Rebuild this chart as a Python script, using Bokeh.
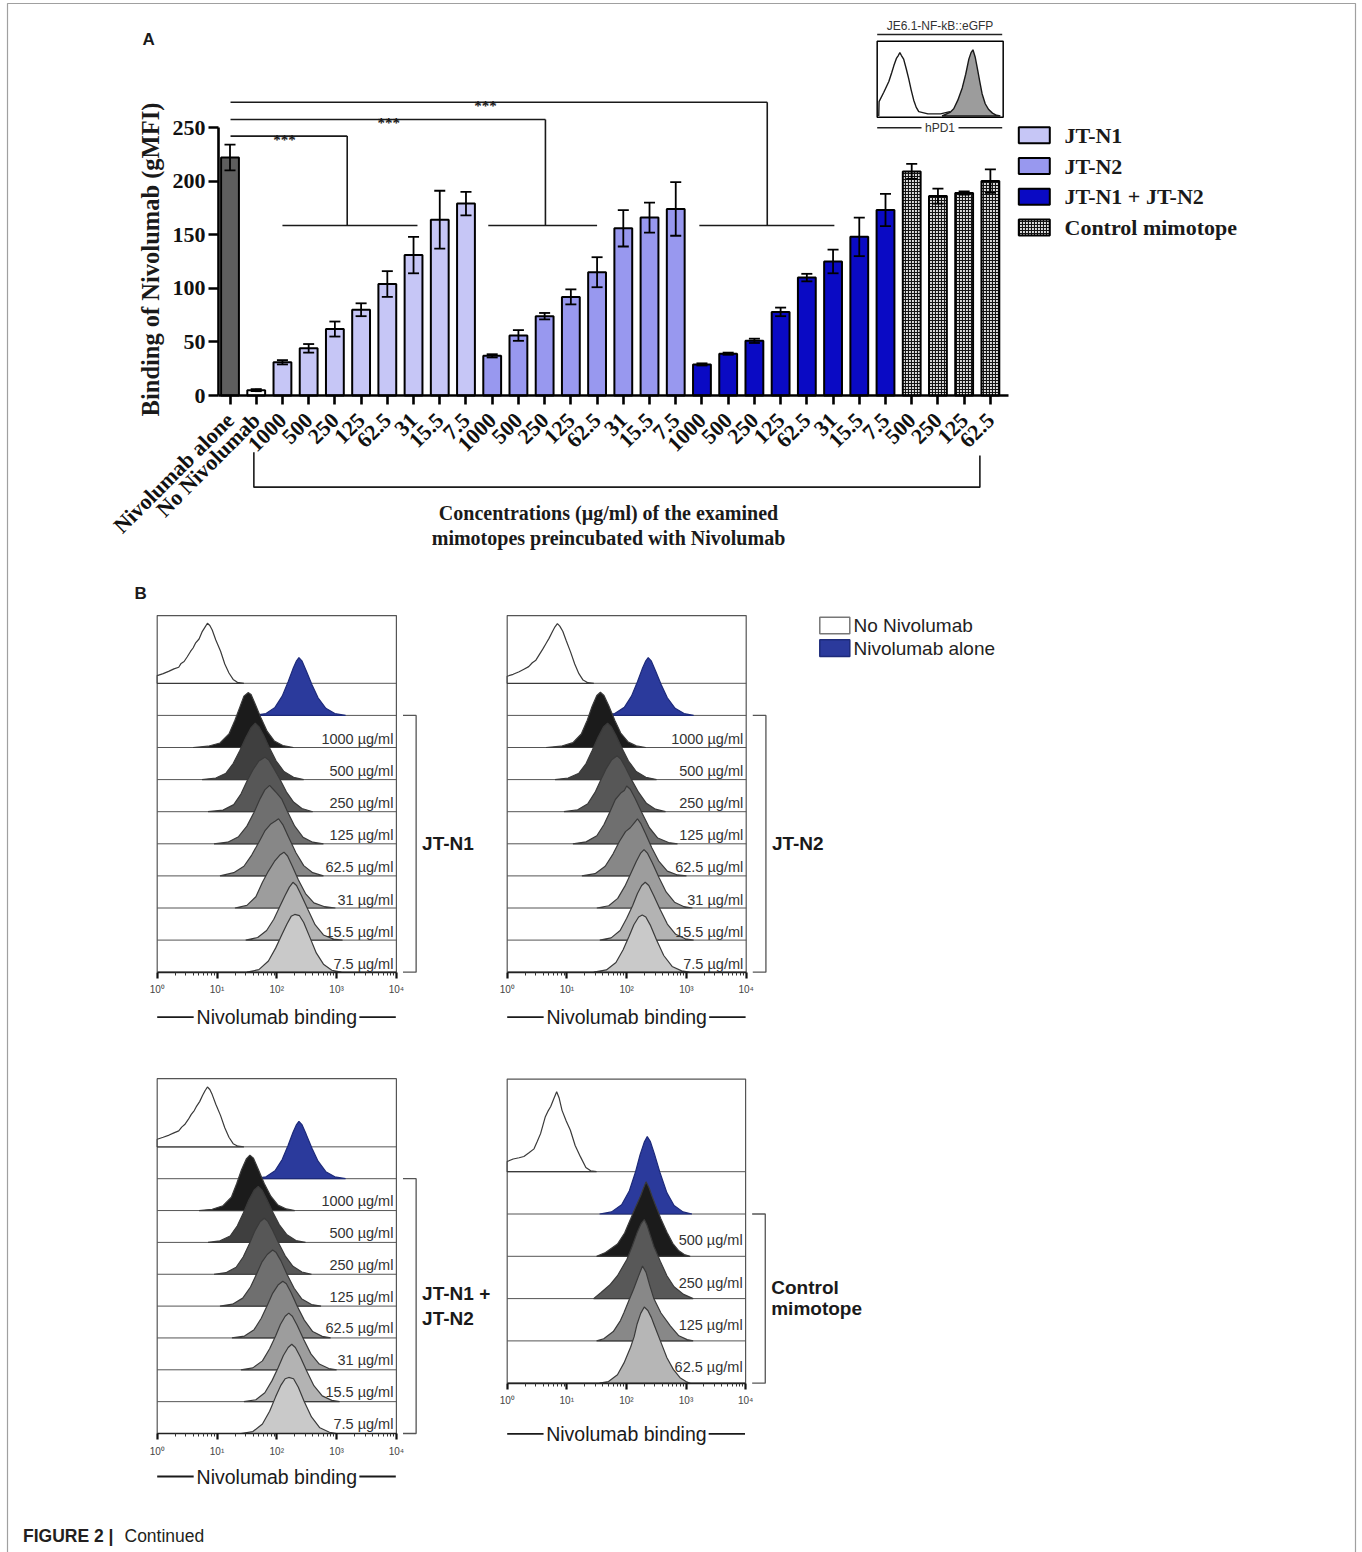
import math
from bokeh.plotting import figure
from bokeh.models import Range1d, LinearAxis, FixedTicker, ColumnDataSource
from bokeh.core.properties import value
from bokeh.embed import file_html
from bokeh.resources import INLINE

W, H = 1362, 1552
SERIF = "Liberation Serif"
SANS = "Liberation Sans"

# ---------------- Panel A: binding of Nivolumab (gMFI) ----------------
reference_labels = ["Nivolumab alone", "No Nivolumab"]
reference_gmfi = [222, 5]
reference_err = [12, 1]

conc_main = ["1000", "500", "250", "125", "62.5", "31", "15.5", "7.5"]
conc_ctrl = ["500", "250", "125", "62.5"]

jtn1_gmfi = [31, 44, 62, 80, 104, 131, 164, 179]
jtn1_err = [2, 4, 7, 6, 12, 17, 27, 11]
jtn2_gmfi = [37, 56, 74, 92, 115, 156, 166, 174]
jtn2_err = [1.5, 5, 3, 7, 14, 17, 14, 25]
combo_gmfi = [29, 39, 51, 78, 110, 125, 148, 173]
combo_err = [1, 1, 2, 4, 3.5, 11, 18, 15]
ctrl_gmfi = [209, 186, 189, 200]
ctrl_err = [7, 7, 1.5, 11]

series_names = ["JT-N1", "JT-N2", "JT-N1 + JT-N2", "Control mimotope"]
series_fill = ["#c6c6f6", "#9898ef", "#0a0ac4", "#dcdcdc"]
reference_fill = ["#5e5e5e", "#ffffff"]

gmfi_ticks = [0, 50, 100, 150, 200, 250]

# significance brackets: upper arm height, x of the drop, lower arm span
sig_text = ["***", "***", "***"]
sig_height = [242, 257.5, 273.5]
sig_drop = [4.47, 12.03, 20.49]
sig_span_lo = [2.0, 9.85, 17.9]
sig_span_hi = [7.15, 14.0, 23.05]
sig_star_x = [2.08, 6.05, 9.74]
sig_low_height = 158.6

y_title = "Binding of Nivolumab (gMFI)"
x_title = ["Concentrations (µg/ml) of the examined", "mimotopes preincubated with Nivolumab"]

# inset: hPD1 expression of the reporter line
inset_title = "JE6.1-NF-kB::eGFP"
inset_xlabel = "hPD1"
inset_unstained = [(0.04, 0.0), (0.05, 0.2), (0.2, 0.33), (0.36, 0.48), (0.45, 0.6), (0.52, 0.7),
                   (0.6, 0.8), (0.66, 0.84), (0.71, 0.88), (0.76, 0.84), (0.83, 0.79), (0.91, 0.66),
                   (0.99, 0.52), (1.07, 0.36), (1.15, 0.22), (1.23, 0.12), (1.31, 0.06), (1.6, 0.03),
                   (2.0, 0.03), (2.3, 0.06)]
inset_stained = [(2.05, 0.0), (2.3, 0.05), (2.42, 0.1), (2.55, 0.22), (2.69, 0.39), (2.8, 0.58),
                 (2.9, 0.79), (2.97, 0.88), (3.03, 0.92), (3.1, 0.82), (3.17, 0.66), (3.25, 0.47),
                 (3.32, 0.31), (3.42, 0.17), (3.53, 0.09), (3.65, 0.04), (3.78, 0.01), (3.9, 0.0)]

# ---------------- Panel B: stacked histograms (log10 fluorescence, height in row units) ----------------
row_names = ["No Nivolumab", "Nivolumab alone"]
legend_b_fill = ["#ffffff", "#2b3a9c"]
grey_main = ["#1b1b1b", "#3f3f3f", "#575757", "#6f6f6f", "#878787", "#9d9d9d", "#b3b3b3", "#c9c9c9"]
grey_ctrl = ["#1b1b1b", "#585858", "#888888", "#b6b6b6"]

jtn1_hist = [
    [(0, 0.24), (0.1, 0.3), (0.2, 0.38), (0.28, 0.45), (0.36, 0.5), (0.4, 0.62), (0.45, 0.68), (0.5, 0.82),
     (0.56, 1.0), (0.6, 1.1), (0.64, 1.25), (0.7, 1.38), (0.75, 1.6), (0.8, 1.75), (0.84, 1.87), (0.88, 1.8),
     (0.92, 1.66), (0.98, 1.35), (1.06, 1.0), (1.13, 0.6), (1.2, 0.32), (1.27, 0.12), (1.34, 0.03), (1.45, 0.0)],
    [(1.62, 0), (1.82, 0.06), (1.97, 0.25), (2.09, 0.6), (2.19, 1.05), (2.27, 1.45), (2.33, 1.7), (2.37, 1.8),
     (2.42, 1.7), (2.49, 1.4), (2.59, 0.95), (2.69, 0.55), (2.82, 0.22), (2.97, 0.06), (3.15, 0)],
    [(0.6, 0), (0.85, 0.04), (1.05, 0.14), (1.2, 0.42), (1.3, 0.85), (1.38, 1.25), (1.45, 1.6), (1.52, 1.71),
     (1.57, 1.65), (1.64, 1.35), (1.74, 0.9), (1.84, 0.5), (1.96, 0.2), (2.1, 0.06), (2.28, 0)],
    [(0.75, 0), (0.98, 0.05), (1.15, 0.2), (1.27, 0.5), (1.38, 0.9), (1.48, 1.3), (1.57, 1.62), (1.64, 1.76),
     (1.7, 1.65), (1.78, 1.38), (1.88, 0.98), (1.99, 0.58), (2.12, 0.25), (2.28, 0.07), (2.45, 0)],
    [(0.85, 0), (1.1, 0.05), (1.28, 0.22), (1.4, 0.55), (1.5, 0.95), (1.6, 1.3), (1.7, 1.58), (1.8, 1.7),
     (1.87, 1.6), (1.95, 1.35), (2.05, 1.02), (2.16, 0.62), (2.28, 0.3), (2.42, 0.1), (2.6, 0)],
    [(0.95, 0), (1.18, 0.05), (1.36, 0.22), (1.5, 0.55), (1.62, 0.98), (1.72, 1.4), (1.8, 1.68), (1.88, 1.82),
     (1.94, 1.7), (2.0, 1.58), (2.08, 1.4), (2.18, 1.0), (2.3, 0.55), (2.44, 0.2), (2.6, 0.05), (2.78, 0)],
    [(1.05, 0), (1.28, 0.1), (1.45, 0.3), (1.58, 0.65), (1.7, 1.05), (1.8, 1.4), (1.9, 1.62), (1.97, 1.7),
     (2.03, 1.78), (2.1, 1.6), (2.2, 1.2), (2.32, 0.72), (2.45, 0.32), (2.6, 0.1), (2.78, 0)],
    [(1.3, 0), (1.5, 0.08), (1.65, 0.35), (1.76, 0.8), (1.86, 1.15), (1.96, 1.45), (2.05, 1.65), (2.12, 1.74),
     (2.18, 1.62), (2.26, 1.3), (2.36, 0.88), (2.48, 0.45), (2.62, 0.16), (2.8, 0.04), (2.98, 0)],
    [(1.48, 0), (1.68, 0.08), (1.83, 0.3), (1.95, 0.65), (2.05, 1.05), (2.14, 1.4), (2.21, 1.65), (2.27, 1.8),
     (2.33, 1.7), (2.41, 1.4), (2.52, 0.95), (2.64, 0.48), (2.78, 0.16), (2.95, 0.03), (3.1, 0)],
    [(1.5, 0), (1.7, 0.08), (1.86, 0.35), (1.98, 0.75), (2.08, 1.15), (2.17, 1.5), (2.24, 1.74), (2.3, 1.8),
     (2.38, 1.76), (2.45, 1.55), (2.55, 1.1), (2.66, 0.6), (2.78, 0.25), (2.92, 0.06), (3.08, 0)],
]

jtn2_hist = [
    [(0, 0.22), (0.1, 0.28), (0.2, 0.36), (0.28, 0.44), (0.36, 0.52), (0.42, 0.64), (0.48, 0.72), (0.54, 0.9),
     (0.6, 1.08), (0.65, 1.24), (0.7, 1.4), (0.76, 1.62), (0.8, 1.76), (0.84, 1.86), (0.88, 1.78), (0.93, 1.62),
     (0.99, 1.32), (1.06, 0.98), (1.13, 0.6), (1.2, 0.3), (1.27, 0.1), (1.35, 0.02), (1.45, 0)],
    [(1.6, 0), (1.8, 0.06), (1.96, 0.25), (2.08, 0.6), (2.18, 1.05), (2.26, 1.45), (2.32, 1.7), (2.36, 1.8),
     (2.41, 1.7), (2.48, 1.4), (2.58, 0.95), (2.68, 0.55), (2.81, 0.22), (2.96, 0.06), (3.12, 0)],
    [(0.65, 0), (0.9, 0.04), (1.1, 0.15), (1.24, 0.42), (1.34, 0.85), (1.42, 1.28), (1.5, 1.62), (1.56, 1.72),
     (1.62, 1.62), (1.7, 1.3), (1.8, 0.85), (1.9, 0.45), (2.02, 0.18), (2.16, 0.05), (2.32, 0)],
    [(0.8, 0), (1.02, 0.05), (1.2, 0.2), (1.32, 0.5), (1.42, 0.9), (1.52, 1.32), (1.61, 1.64), (1.68, 1.76),
     (1.74, 1.65), (1.82, 1.38), (1.92, 0.98), (2.03, 0.58), (2.16, 0.25), (2.32, 0.07), (2.5, 0)],
    [(0.95, 0), (1.18, 0.06), (1.35, 0.25), (1.47, 0.6), (1.57, 1.0), (1.66, 1.35), (1.75, 1.62), (1.84, 1.74),
     (1.9, 1.64), (1.98, 1.38), (2.08, 1.0), (2.2, 0.6), (2.33, 0.26), (2.48, 0.08), (2.65, 0)],
    [(1.1, 0), (1.32, 0.06), (1.5, 0.25), (1.62, 0.6), (1.72, 1.0), (1.81, 1.38), (1.9, 1.58), (1.96, 1.66),
     (2.0, 1.8), (2.06, 1.7), (2.14, 1.42), (2.25, 0.98), (2.38, 0.5), (2.52, 0.18), (2.7, 0.04), (2.85, 0)],
    [(1.25, 0), (1.47, 0.07), (1.64, 0.3), (1.77, 0.68), (1.88, 1.08), (1.98, 1.38), (2.06, 1.5), (2.12, 1.64),
     (2.18, 1.78), (2.24, 1.62), (2.32, 1.3), (2.42, 0.88), (2.54, 0.45), (2.68, 0.15), (2.85, 0.03), (3.0, 0)],
    [(1.5, 0), (1.7, 0.07), (1.85, 0.3), (1.97, 0.68), (2.07, 1.08), (2.16, 1.45), (2.23, 1.7), (2.29, 1.82),
     (2.35, 1.7), (2.43, 1.4), (2.54, 0.95), (2.66, 0.5), (2.8, 0.18), (2.96, 0.04), (3.1, 0)],
    [(1.55, 0), (1.74, 0.07), (1.89, 0.3), (2.0, 0.68), (2.1, 1.08), (2.18, 1.45), (2.25, 1.7), (2.31, 1.8),
     (2.37, 1.7), (2.45, 1.4), (2.56, 0.95), (2.68, 0.5), (2.82, 0.18), (2.98, 0.04), (3.12, 0)],
    [(1.45, 0), (1.66, 0.07), (1.82, 0.3), (1.94, 0.7), (2.04, 1.12), (2.12, 1.48), (2.2, 1.72), (2.26, 1.78),
     (2.32, 1.72), (2.4, 1.45), (2.5, 1.0), (2.62, 0.52), (2.76, 0.18), (2.92, 0.04), (3.05, 0)],
]

combo_hist = [
    [(0, 0.24), (0.1, 0.3), (0.2, 0.37), (0.28, 0.44), (0.36, 0.5), (0.41, 0.62), (0.46, 0.7), (0.52, 0.86),
     (0.57, 1.02), (0.62, 1.14), (0.66, 1.28), (0.71, 1.42), (0.76, 1.62), (0.8, 1.76), (0.84, 1.88), (0.88, 1.8),
     (0.92, 1.64), (0.98, 1.34), (1.06, 0.98), (1.13, 0.6), (1.2, 0.3), (1.27, 0.1), (1.35, 0.02), (1.45, 0)],
    [(1.62, 0), (1.82, 0.06), (1.97, 0.25), (2.09, 0.6), (2.19, 1.05), (2.27, 1.45), (2.33, 1.7), (2.37, 1.8),
     (2.42, 1.7), (2.49, 1.4), (2.59, 0.95), (2.69, 0.55), (2.82, 0.22), (2.97, 0.06), (3.15, 0)],
    [(0.7, 0), (0.92, 0.04), (1.1, 0.15), (1.24, 0.42), (1.33, 0.85), (1.41, 1.28), (1.49, 1.62), (1.55, 1.74),
     (1.61, 1.64), (1.69, 1.3), (1.79, 0.85), (1.9, 0.45), (2.02, 0.17), (2.16, 0.05), (2.3, 0)],
    [(0.85, 0), (1.05, 0.05), (1.22, 0.2), (1.34, 0.52), (1.44, 0.92), (1.53, 1.32), (1.62, 1.64), (1.69, 1.76),
     (1.75, 1.65), (1.83, 1.36), (1.93, 0.96), (2.04, 0.56), (2.17, 0.24), (2.32, 0.06), (2.48, 0)],
    [(0.95, 0), (1.15, 0.05), (1.32, 0.22), (1.44, 0.55), (1.54, 0.95), (1.63, 1.35), (1.72, 1.65), (1.79, 1.76),
     (1.85, 1.66), (1.93, 1.38), (2.03, 0.98), (2.14, 0.58), (2.27, 0.25), (2.42, 0.07), (2.58, 0)],
    [(1.05, 0), (1.26, 0.06), (1.43, 0.25), (1.56, 0.6), (1.66, 1.0), (1.75, 1.38), (1.84, 1.62), (1.93, 1.76),
     (1.99, 1.68), (2.07, 1.42), (2.17, 1.0), (2.29, 0.56), (2.42, 0.22), (2.58, 0.05), (2.74, 0)],
    [(1.25, 0), (1.46, 0.06), (1.62, 0.26), (1.74, 0.62), (1.84, 1.02), (1.93, 1.4), (2.02, 1.66), (2.1, 1.78),
     (2.16, 1.7), (2.24, 1.42), (2.34, 1.0), (2.46, 0.56), (2.6, 0.2), (2.76, 0.05), (2.9, 0)],
    [(1.4, 0), (1.6, 0.06), (1.76, 0.28), (1.88, 0.66), (1.98, 1.06), (2.06, 1.42), (2.14, 1.68), (2.2, 1.78),
     (2.26, 1.68), (2.34, 1.4), (2.45, 0.95), (2.57, 0.5), (2.71, 0.18), (2.87, 0.04), (3.0, 0)],
    [(1.45, 0), (1.65, 0.06), (1.8, 0.28), (1.92, 0.66), (2.02, 1.06), (2.11, 1.45), (2.19, 1.7), (2.25, 1.8),
     (2.31, 1.7), (2.39, 1.42), (2.5, 0.96), (2.62, 0.5), (2.76, 0.18), (2.92, 0.04), (3.05, 0)],
    [(1.4, 0), (1.6, 0.06), (1.76, 0.3), (1.88, 0.7), (1.98, 1.15), (2.07, 1.52), (2.14, 1.72), (2.2, 1.76),
     (2.28, 1.72), (2.36, 1.45), (2.46, 1.0), (2.58, 0.52), (2.72, 0.18), (2.88, 0.04), (3.0, 0)],
]

ctrl_hist = [
    [(0, 0.24), (0.1, 0.3), (0.2, 0.33), (0.28, 0.36), (0.36, 0.44), (0.45, 0.54), (0.5, 0.7), (0.56, 0.9),
     (0.6, 1.1), (0.64, 1.3), (0.68, 1.42), (0.73, 1.54), (0.78, 1.72), (0.83, 1.89), (0.87, 1.75), (0.92, 1.45),
     (0.99, 1.2), (1.06, 0.98), (1.14, 0.62), (1.23, 0.35), (1.32, 0.1), (1.4, 0.02), (1.5, 0)],
    [(1.55, 0), (1.75, 0.05), (1.92, 0.22), (2.05, 0.55), (2.15, 0.98), (2.23, 1.4), (2.3, 1.7), (2.35, 1.83),
     (2.4, 1.72), (2.47, 1.42), (2.57, 0.95), (2.68, 0.5), (2.8, 0.2), (2.95, 0.05), (3.1, 0)],
    [(1.5, 0), (1.65, 0.09), (1.85, 0.29), (1.97, 0.55), (2.07, 0.88), (2.16, 1.18), (2.24, 1.43), (2.29, 1.62),
     (2.33, 1.76), (2.38, 1.62), (2.43, 1.42), (2.49, 1.2), (2.58, 0.88), (2.68, 0.57), (2.78, 0.3), (2.88, 0.13),
     (2.97, 0.04), (3.07, 0)],
    [(1.45, 0), (1.57, 0.14), (1.72, 0.32), (1.85, 0.54), (2.01, 0.93), (2.1, 1.25), (2.18, 1.56), (2.25, 1.78),
     (2.3, 1.87), (2.35, 1.72), (2.4, 1.5), (2.46, 1.24), (2.57, 0.88), (2.68, 0.54), (2.8, 0.28), (2.96, 0.1),
     (3.12, 0)],
    [(1.5, 0), (1.62, 0.05), (1.78, 0.22), (1.9, 0.48), (1.96, 0.67), (2.04, 0.95), (2.12, 1.22), (2.2, 1.52),
     (2.27, 1.77), (2.33, 1.62), (2.39, 1.32), (2.46, 1.0), (2.58, 0.66), (2.74, 0.35), (2.88, 0.12), (3.02, 0.03),
     (3.12, 0)],
    [(1.55, 0), (1.7, 0.04), (1.85, 0.2), (1.96, 0.48), (2.07, 0.85), (2.13, 1.1), (2.18, 1.4), (2.24, 1.65),
     (2.3, 1.8), (2.36, 1.72), (2.42, 1.55), (2.46, 1.4), (2.57, 1.0), (2.68, 0.6), (2.79, 0.32), (2.9, 0.13),
     (3.0, 0.04), (3.07, 0)],
]

# panel geometry on the page: x0 = pixel of 10^0, dec = pixels per decade,
# y0 = pixel of the lowest baseline, pitch = pixels between stacked baselines
ridge_panels = [
    dict(title=["JT-N1"], title_v=[4.0], conc=conc_main, greys=grey_main, hist=jtn1_hist,
         x0=156.7, dec=59.8, y0=971.7, pitch=32.1, head=2.11, lift=0.5, xlab=45.0),
    dict(title=["JT-N2"], title_v=[4.0], conc=conc_main, greys=grey_main, hist=jtn2_hist,
         x0=506.7, dec=59.75, y0=971.7, pitch=32.1, head=2.11, lift=0.5, xlab=45.0),
    dict(title=["JT-N1 +", "JT-N2"], title_v=[4.4, 3.62], conc=conc_main, greys=grey_main, hist=combo_hist,
         x0=156.7, dec=59.8, y0=1433.0, pitch=31.85, head=2.14, lift=1.5, xlab=43.0),
    dict(title=["Control", "mimotope"], title_v=[2.27, 1.76], conc=conc_ctrl, greys=grey_ctrl, hist=ctrl_hist,
         x0=506.7, dec=59.6, y0=1382.7, pitch=42.3, head=2.19, lift=8.0, xlab=50.6),
]


def x_map(origin, scale):
    return Range1d(start=(0 - origin) / scale, end=(W - origin) / scale)


def y_map(origin, scale):
    return Range1d(start=(origin - H) / scale, end=origin / scale)


p = figure(width=W, height=H, x_range=Range1d(0, W), y_range=Range1d(H, 0),
           x_axis_type=None, y_axis_type=None, toolbar_location=None,
           output_backend="svg", min_border=0)
p.outline_line_color = None
p.background_fill_color = "white"
p.border_fill_color = "white"

xr = {"bx": x_map(229.5, 26.22), "ix": x_map(877.0, 31.5)}
yr = {"by": y_map(395.0, 1.072), "iy": y_map(115.5, 72.0)}
for k, rp in enumerate(ridge_panels):
    xr[f"r{k}x"] = x_map(rp["x0"], rp["dec"])
    yr[f"r{k}y"] = y_map(rp["y0"], rp["pitch"])
p.extra_x_ranges = xr
p.extra_y_ranges = yr


def text(x, y, s, size, font=SANS, style="normal", align="left", baseline="middle",
         color="#1a1a1a", angle=0.0, xname="default", yname="default"):
    xs = x if isinstance(x, list) else [x]
    ys = y if isinstance(y, list) else [y]
    ss = s if isinstance(s, list) else [s]
    p.text(x=xs, y=ys, text=ss, text_font=value(font), text_font_size=f"{size}px",
           text_font_style=style, text_align=align, text_baseline=baseline,
           text_color=color, angle=angle, x_range_name=xname, y_range_name=yname)


# outer frame (open at the foot of the page) and caption
p.line(x=[7, 7, 1355, 1355], y=[1560, 3, 3, 1560], line_color="#a0a0a0", line_width=1.2)
text(22.5, 1535, "FIGURE 2 |", 17.5, style="bold", color="#231f20")
text(124.0, 1535, "Continued", 17.5, color="#231f20")

# ---------------- Panel A ----------------
text(142, 39, "A", 17, style="bold")

values = reference_gmfi + jtn1_gmfi + jtn2_gmfi + combo_gmfi + ctrl_gmfi
errors = reference_err + jtn1_err + jtn2_err + combo_err + ctrl_err
tick_labels = reference_labels + conc_main * 3 + conc_ctrl
fills = list(reference_fill)
for col, n in zip(series_fill, [len(jtn1_gmfi), len(jtn2_gmfi), len(combo_gmfi), len(ctrl_gmfi)]):
    fills += [col] * n
xpos = list(range(len(values)))
n_ctrl = len(ctrl_gmfi)
checker = dict(hatch_pattern="cross", hatch_color="#141414", hatch_scale=3.0, hatch_weight=1.15)

bars = ColumnDataSource(dict(x=xpos[:-n_ctrl], top=values[:-n_ctrl], fill=fills[:-n_ctrl]))
p.vbar(x="x", top="top", bottom=0, width=0.68, fill_color="fill", line_color="black",
       line_width=2, source=bars, x_range_name="bx", y_range_name="by")
p.vbar(x=xpos[-n_ctrl:], top=values[-n_ctrl:], bottom=0, width=0.68, fill_color=series_fill[3],
       line_color="black", line_width=2, x_range_name="bx", y_range_name="by", **checker)

lo = [v - e for v, e in zip(values, errors)]
hi = [v + e for v, e in zip(values, errors)]
cap = 0.21
err_kw = dict(line_color="black", line_width=1.8, x_range_name="bx", y_range_name="by")
p.segment(x0=xpos, y0=lo, x1=xpos, y1=hi, **err_kw)
p.segment(x0=[x - cap for x in xpos], y0=hi, x1=[x + cap for x in xpos], y1=hi, **err_kw)
p.segment(x0=[x - cap for x in xpos], y0=lo, x1=[x + cap for x in xpos], y1=lo, **err_kw)

# axes
yax = LinearAxis(x_range_name="bx", y_range_name="by", fixed_location=-0.44, bounds=(0, 250),
                 ticker=FixedTicker(ticks=gmfi_ticks, minor_ticks=[]))
yax.axis_line_width = 2.6
yax.axis_line_color = "black"
yax.major_tick_line_width = 2.6
yax.major_tick_out = 10
yax.major_tick_in = 0
yax.minor_tick_out = 0
yax.minor_tick_in = 0
yax.major_label_text_font = SERIF
yax.major_label_text_font_style = "bold"
yax.major_label_text_font_size = "22px"
yax.major_label_text_color = "#111111"
yax.major_label_standoff = 3
p.add_layout(yax, "left")

xax = LinearAxis(x_range_name="bx", y_range_name="by", fixed_location=0, bounds=(-0.44, 29.69),
                 ticker=FixedTicker(ticks=xpos, minor_ticks=[]),
                 major_label_overrides={i: lab for i, lab in enumerate(tick_labels)},
                 major_label_orientation=math.pi / 4)
xax.axis_line_width = 2.6
xax.axis_line_color = "black"
xax.major_tick_line_width = 2.6
xax.major_tick_out = 9
xax.major_tick_in = 0
xax.minor_tick_out = 0
xax.minor_tick_in = 0
xax.major_label_text_font = SERIF
xax.major_label_text_font_style = "bold"
xax.major_label_text_font_size = "22px"
xax.major_label_text_color = "#111111"
xax.major_label_standoff = 12
p.add_layout(xax, "below")

text(150, 259, y_title, 24.5, font=SERIF, style="bold", align="center", angle=math.pi / 2)

# significance brackets
sx0, sy0, sx1, sy1 = [], [], [], []
for h, d, a, b in zip(sig_height, sig_drop, sig_span_lo, sig_span_hi):
    sx0 += [0.02, d, a]
    sy0 += [h, h, sig_low_height]
    sx1 += [d, d, b]
    sy1 += [h, sig_low_height, sig_low_height]
p.segment(x0=sx0, y0=sy0, x1=sx1, y1=sy1, line_color="#1a1a1a", line_width=1.6,
          x_range_name="bx", y_range_name="by")
text(sig_star_x, [h - 3.6 for h in sig_height], sig_text, 15, font=SERIF, style="bold",
     align="center", baseline="alphabetic", xname="bx", yname="by")

# bracket under the concentration labels
p.line(x=[0.91, 0.91, 28.6, 28.6], y=[-52.9, -85.5, -85.5, -56.0], line_color="#1a1a1a",
       line_width=1.6, x_range_name="bx", y_range_name="by")
text([608, 608], [512.7, 537.3], x_title, 20, font=SERIF, style="bold", align="center",
     baseline="alphabetic")

# legend
leg_y = [134.7 + 30.8 * k for k in range(len(series_names))]
for k, (name, col) in enumerate(zip(series_names, series_fill)):
    kw = checker if name == "Control mimotope" else {}
    p.quad(left=1018.3, right=1049.3, top=leg_y[k] - 8, bottom=leg_y[k] + 8, fill_color=col,
           line_color="black", line_width=2, **kw)
    text(1064, leg_y[k], name, 22, font=SERIF, style="bold")

# inset histogram
p.quad(left=-0.01, right=3.99, bottom=-0.017, top=1.039, fill_color="white", line_color="black",
       line_width=1.5, x_range_name="ix", y_range_name="iy")
p.patch(x=[q[0] for q in inset_stained], y=[q[1] for q in inset_stained], fill_color="#9c9c9c",
        line_color="#1a1a1a", line_width=1.4, x_range_name="ix", y_range_name="iy")
p.line(x=[q[0] for q in inset_unstained], y=[q[1] for q in inset_unstained], line_color="#1a1a1a",
       line_width=1.4, x_range_name="ix", y_range_name="iy")
text(939.5, 25, inset_title, 12, color="#333333", align="center")
p.line(x=[876.7, 1001.7], y=[34, 34], line_color="#222222", line_width=1.6)
text(939.5, 127.3, inset_xlabel, 12, color="#333333", align="center")
p.line(x=[876.7, 921], y=[127.3, 127.3], line_color="#222222", line_width=1.4)
p.line(x=[958, 1001.7], y=[127.3, 127.3], line_color="#222222", line_width=1.4)

# ---------------- Panel B ----------------
text(134, 593, "B", 17, style="bold")

# legend for the reference histograms
for k, (name, col) in enumerate(zip(row_names, legend_b_fill)):
    top = 616.7 + 22.6 * k
    p.quad(left=819.3, right=849.3, top=top, bottom=top + 16.6, fill_color=col,
           line_color="#777777" if k == 0 else "#1d2a7a", line_width=1.5)
    text(853, top + 8.3, name, 19, color="#222222")

minor_ticks = [d + math.log10(m) for d in range(4) for m in range(2, 10)]
for k, rp in enumerate(ridge_panels):
    xn, yn = f"r{k}x", f"r{k}y"
    hist = rp["hist"]
    nrows = len(hist)
    fills_b = legend_b_fill + rp["greys"]
    # frame
    p.quad(left=0, right=4, bottom=0, top=nrows - 1 + rp["head"], fill_color="white",
           line_color="#555555", line_width=1.2, x_range_name=xn, y_range_name=yn)
    for j, pts in enumerate(hist):
        row = nrows - 1 - j
        p.line(x=[0, 4], y=[row, row], line_color="#555555", line_width=1.0,
               x_range_name=xn, y_range_name=yn)
        px = [pts[0][0]] + [q[0] for q in pts] + [pts[-1][0]]
        py = [row] + [row + q[1] for q in pts] + [row]
        edge = "#1d2a7a" if j == 1 else "#3a3a3a"
        p.patch(x=px, y=py, fill_color=fills_b[j], line_color=edge, line_width=1.2,
                x_range_name=xn, y_range_name=yn)
    # concentration labels
    lift = rp["lift"] / rp["pitch"]
    conc_rows = [len(rp["conc"]) - 1 - i for i in range(len(rp["conc"]))]
    text([3.95] * len(rp["conc"]), [r + lift for r in conc_rows], [c + " µg/ml" for c in rp["conc"]],
         14.5, color="#333333", align="right", baseline="bottom", xname=xn, yname=yn)
    # group bracket and name
    top_row = len(rp["conc"])
    p.line(x=[4.11, 4.33, 4.33, 4.11], y=[top_row, top_row, 0, 0], line_color="#555555",
           line_width=1.3, x_range_name=xn, y_range_name=yn)
    text([4.43] * len(rp["title"]), rp["title_v"], rp["title"], 19, style="bold",
         color="#1a1a1a", xname=xn, yname=yn)
    # log axis
    ax = LinearAxis(x_range_name=xn, y_range_name=yn, fixed_location=0, bounds=(0, 4),
                    ticker=FixedTicker(ticks=[0, 1, 2, 3, 4], minor_ticks=minor_ticks),
                    major_label_overrides={d: "10" + s for d, s in zip(range(5), "⁰¹²³⁴")})
    ax.axis_line_color = "#222222"
    ax.axis_line_width = 1.4
    ax.major_tick_out = 6
    ax.major_tick_in = 0
    ax.major_tick_line_width = 2.2
    ax.major_tick_line_color = "#111111"
    ax.minor_tick_out = 3
    ax.minor_tick_in = 0
    ax.minor_tick_line_width = 1
    ax.minor_tick_line_color = "#333333"
    ax.major_label_text_font = SANS
    ax.major_label_text_font_size = "10px"
    ax.major_label_text_color = "#444444"
    ax.major_label_standoff = 6
    p.add_layout(ax, "below")
    # axis title with rules on both sides
    vlab = -rp["xlab"] / rp["pitch"]
    text(2.0, vlab, "Nivolumab binding", 19.5, color="#1a1a1a", align="center",
         xname=xn, yname=yn)
    p.segment(x0=[0.0, 3.38], y0=[vlab, vlab], x1=[0.61, 3.99], y1=[vlab, vlab],
              line_color="#1a1a1a", line_width=1.8, x_range_name=xn, y_range_name=yn)

open("out.html", "w").write(file_html(p, INLINE))
